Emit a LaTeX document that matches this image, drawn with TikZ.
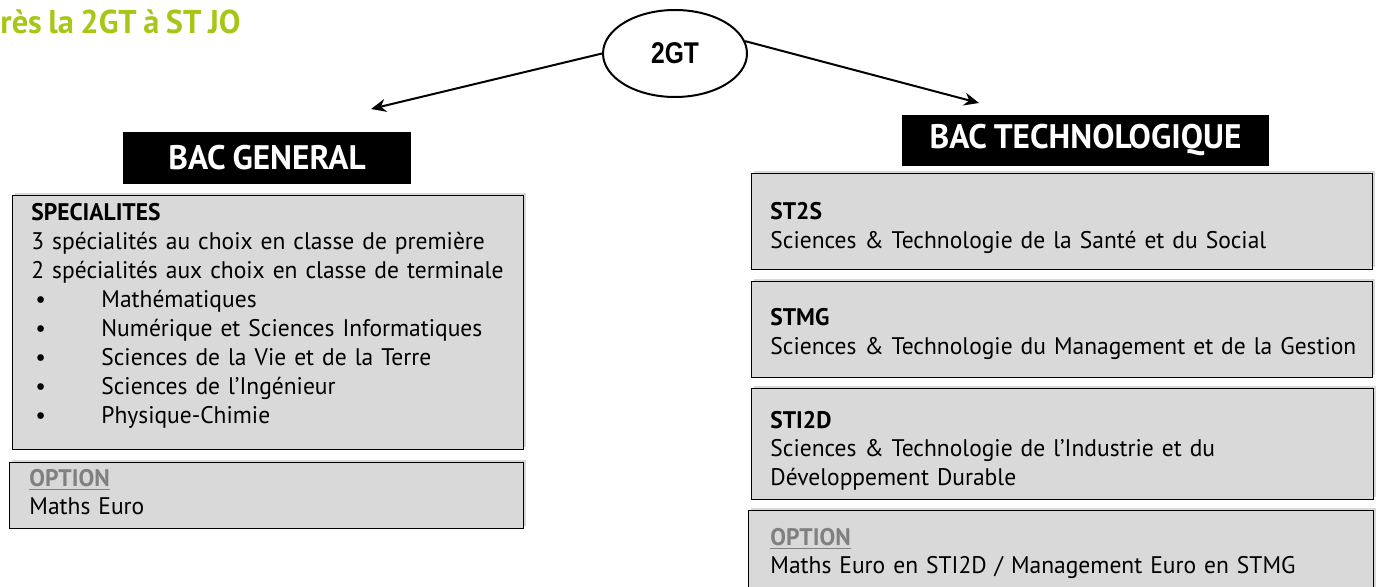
\documentclass[tikz,border=0pt]{standalone}
\usepackage{fontspec}
\setmainfont{PT Sans}[FakeStretch=0.98,WordSpace=0.8]
\newfontfamily\narrowbold{Liberation Sans}[FakeStretch=0.82]
\usepackage{tikz}
\usetikzlibrary{arrows.meta,shadows,shapes.geometric}

\definecolor{titlegreen}{RGB}{166,199,22}
\definecolor{boxgrey}{RGB}{217,217,217}
\definecolor{optgrey}{RGB}{128,128,128}

\tikzset{
  greybox/.style={draw=black, line width=0.7pt, fill=boxgrey, anchor=north west, inner sep=0pt,
    drop shadow={shadow xshift=1.2pt, shadow yshift=1.5pt, opacity=0.3}},
  headbox/.style={fill=black, text=white, inner sep=0pt, font=\bfseries\fontsize{17}{20}\selectfont},
  boxtext/.style={anchor=base west, inner sep=0pt, align=left, text width=310pt,
    font=\fontsize{12}{14.45}\selectfont},
  arrowline/.style={line width=1pt, -{Stealth[length=7.5pt,width=6.5pt]}},
}
\newcommand{\optlabel}{\textbf{\color{optgrey}\underline{OPTION}}}
\newcommand{\bul}{\makebox[35pt][l]{\kern2pt\textbullet}}

\begin{document}
\begin{tikzpicture}[x=0.5pt,y=0.5pt,yscale=-1]
    \useasboundingbox (0,0) rectangle (1379,587);
    \clip (0,0) rectangle (1379,587);

    % Text Node
    \node[anchor=base west, inner sep=0pt, text=titlegreen, font=\bfseries\fontsize{16.5}{20}\selectfont] (title) at (0,34) {rès la 2GT à ST JO};

    %Shape: Ellipse
    \node[draw, ellipse, line width=1pt, minimum width=72pt, minimum height=43.5pt, inner sep=0pt,
      font=\narrowbold\bfseries\fontsize{15}{18}\selectfont] (gt) at (675,53.5) {2GT};

    %Shape: Rectangle
    \node[headbox, minimum width=144pt, minimum height=26pt] (bacgen) at (267,158) {BAC GENERAL};
    %Shape: Rectangle
    \node[headbox, minimum width=183.5pt, minimum height=25.5pt] (bactech) at (1085.5,140.5) {BAC TECHNOLOGIQUE};

    %Straight Lines
    \coordinate (genTip) at (371,109);
    \coordinate (techTip) at (979,103);
    \draw[arrowline] (gt.west) -- (genTip);
    \draw[arrowline] (gt.10) -- (techTip);

    %Shape: Rectangle
    \node[greybox, minimum width=255.5pt, minimum height=127pt] (spec) at (12,195) {};
    %Shape: Rectangle
    \node[greybox, minimum width=257pt, minimum height=33pt] (genopt) at (9,462) {};
    %Shape: Rectangle
    \node[greybox, minimum width=310.5pt, minimum height=48pt] (sts) at (751,173) {};
    %Shape: Rectangle
    \node[greybox, minimum width=310.5pt, minimum height=48pt] (stmg) at (751,281) {};
    %Shape: Rectangle
    \node[greybox, minimum width=311pt, minimum height=55.5pt] (stid) at (751,388) {};
    %Shape: Rectangle
    \node[greybox, minimum width=312.5pt, minimum height=50pt] (techopt) at (748,510) {};

    % Text Node
    \node[boxtext] (spectext) at (31,221) {\textbf{SPECIALITES}\\
      3 spécialités au choix en classe de première\\
      2 spécialités aux choix en classe de terminale\\
      \bul Mathématiques\\
      \bul Numérique et Sciences Informatiques\\
      \bul Sciences de la Vie et de la Terre\\
      \bul Sciences de l’Ingénieur\\
      \bul Physique-Chimie};
    % Text Node
    \node[boxtext] (genopttext) at (29,486) {\optlabel\\Maths Euro};
    % Text Node
    \node[boxtext] (ststext) at (770,220) {\textbf{ST2S}\\Sciences \& Technologie de la Santé et du Social};
    % Text Node
    \node[boxtext] (stmgtext) at (770,326) {\textbf{STMG}\\Sciences \& Technologie du Management et de la Gestion};
    % Text Node
    \node[boxtext] (stidtext) at (770,428) {\textbf{STI2D}\\Sciences \& Technologie de l’Industrie et du\\Développement Durable};
    % Text Node
    \node[boxtext] (techopttext) at (770,545) {\optlabel\\Maths Euro en STI2D / Management Euro en STMG};
\end{tikzpicture}
\end{document}
